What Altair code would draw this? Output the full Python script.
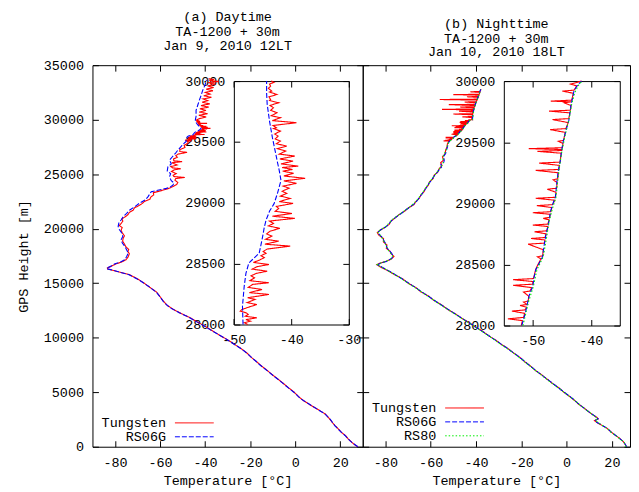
import altair as alt
import pandas as pd

FONT = "Liberation Mono"
FS = 13.5
H = 384

# ---------------- categories / tick labels ----------------
day_title = ["(a) Daytime", "TA-1200 + 30m", "Jan 9, 2010 12LT"]
night_title = ["(b) Nighttime", "TA-1200 + 30m", "Jan 10, 2010 18LT"]
day_series = ["Tungsten", "RS06G"]
night_series = ["Tungsten", "RS06G", "RS80"]
series_colors = ["#ff0000", "#0000ff", "#00ee00"]
series_dashes = [[1, 0], [5, 2], [1.5, 2]]
main_x_ticks = [-80, -60, -40, -20, 0, 20]
main_y_ticks = [0, 5000, 10000, 15000, 20000, 25000, 30000, 35000]
inset_y_ticks = [28000, 28500, 29000, 29500, 30000]
day_inset_x_ticks = [-50, -40, -30]
night_inset_x_ticks = [-50, -40]

# ---------------- daytime (height m, temperature C) ----------------
day_rs06g_low = [(0, 27.8), (300, 25.8), (575, 24.2), (1000, 22.3), (1340, 20.5), (1640, 19.0), (1945, 17.6),
    (2500, 15.6), (3010, 13.2), (3400, 10.2), (3770, 7.3), (4380, 2.6), (5000, -0.6), (5500, -3.6), (6000, -6.5),
    (6500, -9.6), (7000, -12.6), (7500, -15.6), (8000, -18.3), (8500, -21.0), (8945, -23.6), (9500, -27.8),
    (10000, -31.6), (10500, -35.8), (11000, -39.8), (11500, -44.0), (11860, -47.0), (12300, -51.5), (12770, -55.7),
    (13300, -58.5), (13700, -59.8), (14150, -61.5), (14700, -65.0), (15330, -69.5), (15800, -74.0), (16050, -78.5),
    (16245, -82.0), (16330, -83.7), (16450, -83.0), (16600, -81.5), (16790, -80.0), (16950, -77.5), (17160, -75.6),
    (17450, -74.8), (17770, -74.1), (18050, -74.8), (18370, -75.6), (18700, -76.8), (19000, -77.2), (19300, -76.5),
    (19600, -77.0), (19900, -78.0), (20200, -78.6), (20510, -78.3), (20800, -77.3), (21110, -76.3), (21400, -74.8),
    (21720, -73.4), (22050, -71.0), (22360, -69.0), (22650, -66.5), (22940, -65.3), (23200, -64.5), (23390, -63.9),
    (23550, -60.5), (23700, -57.2), (23850, -55.3), (24000, -54.3), (24200, -53.8), (24400, -55.0), (24760, -55.8),
    (25050, -55.3), (25300, -56.8), (25670, -56.5), (25950, -55.0), (26280, -55.8), (26600, -54.5), (26900, -53.2),
    (27200, -52.1), (27500, -50.8), (27750, -49.8)]
day_rs06g_inset = [(28000, -48.4), (28150, -48.5), (28313, -48.2), (28420, -47.9), (28504, -47.4), (28550, -46.4),
    (28585, -45.6), (28650, -45.3), (28721, -45.0), (28800, -44.7), (28857, -44.4), (28930, -43.8), (28993, -43.0),
    (29080, -42.4), (29184, -41.8), (29265, -42.1), (29330, -42.4), (29400, -42.7), (29537, -43.3), (29673, -43.8),
    (29810, -44.2), (29900, -44.3), (30000, -44.3)]
day_rs06g_high = [(30300, -44.0), (30850, -44.0), (31300, -43.3), (31760, -42.6), (32200, -41.8), (32670, -41.1),
    (33050, -40.3), (33430, -39.6), (33650, -39.4)]

day_tung_low = [(0, 27.9), (150, 26.6), (400, 25.2), (700, 23.6), (1000, 22.5), (1300, 20.6), (1600, 19.3),
    (1900, 17.9), (2200, 16.6), (2600, 15.1), (3000, 13.4), (3300, 11.0), (3600, 8.6), (3900, 6.2), (4200, 3.9),
    (4600, 1.5), (5000, -0.4), (5400, -2.9), (5800, -5.2), (6200, -7.6), (6600, -10.1), (7000, -12.4), (7400, -14.9),
    (7800, -17.1), (8200, -19.5), (8600, -21.4), (9000, -24.0), (9400, -27.0), (9800, -29.9), (10200, -33.3),
    (10600, -36.5), (11000, -39.6), (11400, -43.0), (11800, -46.3), (12200, -50.4), (12600, -54.1), (13000, -57.0),
    (13400, -58.7), (13800, -60.1), (14200, -61.6), (14600, -64.4), (15000, -67.0), (15400, -70.0), (15800, -73.7),
    (16100, -79.6), (16300, -83.2), (16400, -83.4), (16550, -81.6), (16750, -79.8), (16950, -77.0), (17150, -75.1),
    (17400, -74.2), (17700, -73.6), (17900, -74.3), (18100, -73.9), (18350, -75.2), (18600, -75.8), (18850, -76.6),
    (19100, -76.4), (19350, -75.8), (19600, -76.7), (19850, -77.3), (20100, -76.8), (20300, -78.1), (20500, -77.2),
    (20700, -76.5), (20900, -76.9), (21100, -75.4), (21300, -74.2), (21500, -73.6), (21700, -71.9), (21900, -71.4),
    (22100, -69.6), (22300, -68.0), (22500, -66.9), (22700, -64.5), (22900, -64.1), (23100, -62.8), (23300, -63.0),
    (23450, -60.2), (23600, -57.5), (23750, -55.4), (23900, -54.0), (24050, -52.6), (24250, -52.1), (24450, -53.4),
    (24600, -53.0), (24700, -49.0), (24780, -53.8), (24900, -54.2), (25050, -52.8), (25250, -54.9), (25400, -53.6),
    (25500, -50.8), (25580, -54.4), (25700, -55.2), (25850, -52.4), (26050, -54.8), (26150, -50.2), (26230, -53.9),
    (26400, -54.0), (26550, -52.3), (26700, -53.0), (26850, -51.9), (27000, -48.0), (27080, -51.2), (27250, -51.2),
    (27450, -48.9), (27650, -49.3), (27850, -47.6)]
day_tung_inset = [(28000, -47.6), (28015, -48.2), (28027, -47.1), (28040, -47.9), (28055, -46.0), (28068, -48.0),
    (28082, -47.5), (28095, -47.8), (28110, -48.9), (28123, -48.6), (28140, -47.6), (28164, -46.0), (28180, -47.7),
    (28206, -46.3), (28220, -47.6), (28247, -43.9), (28262, -47.3), (28288, -45.1), (28305, -47.5), (28330, -46.7),
    (28343, -43.9), (28360, -47.2), (28384, -46.4), (28400, -47.0), (28420, -46.1), (28438, -44.2), (28455, -46.8),
    (28475, -46.0), (28493, -43.9), (28510, -46.6), (28530, -45.5), (28550, -44.7), (28565, -45.3), (28585, -44.4),
    (28600, -44.9), (28620, -44.2), (28644, -40.2), (28660, -44.6), (28685, -42.2), (28700, -44.5), (28726, -43.4),
    (28745, -44.3), (28767, -43.7), (28790, -42.0), (28810, -44.0), (28830, -43.1), (28850, -43.8), (28872, -39.4),
    (28890, -43.3), (28912, -39.9), (28930, -42.8), (28953, -42.2), (28970, -42.6), (28995, -39.7), (29010, -42.1),
    (29036, -40.2), (29055, -41.9), (29077, -40.8), (29095, -41.6), (29120, -40.4), (29137, -41.4), (29160, -39.1),
    (29180, -41.3), (29201, -37.6), (29220, -41.3), (29242, -39.6), (29260, -41.5), (29274, -39.8), (29290, -41.6),
    (29301, -38.8), (29320, -41.8), (29342, -39.7), (29360, -42.0), (29384, -39.4), (29400, -42.1), (29425, -41.0),
    (29445, -42.4), (29466, -40.8), (29485, -42.6), (29507, -41.9), (29525, -42.8), (29534, -42.6), (29548, -42.3),
    (29565, -42.9), (29589, -41.9), (29610, -43.1), (29617, -42.6), (29635, -43.2), (29658, -39.1), (29675, -43.3),
    (29699, -41.9), (29715, -43.5), (29740, -42.5), (29760, -43.6), (29781, -43.1), (29800, -43.7), (29822, -42.2),
    (29840, -43.8), (29849, -43.6), (29870, -43.9), (29890, -42.5), (29910, -43.8), (29918, -43.4), (29940, -44.0),
    (29959, -43.6), (29975, -43.8), (29990, -43.0), (30000, -43.5)]
day_tung_high = [(30100, -42.5), (30250, -39.5), (30400, -42.8), (30550, -38.9), (30700, -42.6), (30850, -39.6),
    (31000, -42.3), (31150, -38.4), (31300, -41.8), (31450, -37.9), (31600, -41.3), (31750, -38.8), (31900, -40.9),
    (32050, -37.2), (32200, -40.6), (32350, -37.8), (32500, -39.9), (32650, -36.5), (32800, -39.5), (32950, -36.2),
    (33100, -38.9), (33250, -35.4), (33400, -38.6), (33500, -33.8), (33600, -38.1), (33700, -36.0), (33750, -38.5)]

# ---------------- nighttime ----------------
night_rs06g_low = [(0, 26.5), (120, 26.2), (430, 25.3), (885, 22.7), (1340, 19.7), (1640, 18.3), (2100, 14.6),
    (2250, 13.2), (2400, 12.5), (2550, 13.9), (2710, 13.2), (3100, 10.5), (3470, 8.1), (3900, 5.5), (4380, 2.9),
    (5000, -1.0), (5500, -4.2), (6000, -7.3), (6500, -10.5), (7000, -13.6), (7500, -16.6), (8000, -19.5),
    (8500, -22.6), (9000, -26.0), (9500, -29.5), (10000, -33.0), (10500, -36.6), (11000, -40.3), (11500, -44.0),
    (12000, -47.8), (12500, -51.6), (13000, -55.3), (13500, -58.9), (14000, -62.4), (14500, -66.0), (15000, -69.6),
    (15500, -73.4), (16000, -77.4), (16400, -80.8), (16700, -83.4), (16850, -82.0), (17000, -79.5), (17250, -77.3),
    (17500, -76.6), (17750, -77.2), (18000, -78.4), (18300, -79.4), (18600, -79.8), (18900, -80.6), (19200, -81.4),
    (19500, -82.8), (19700, -83.2), (19900, -82.0), (20200, -79.6), (20500, -78.2), (20800, -77.0), (21100, -75.1),
    (21400, -73.0), (21700, -71.2), (22000, -69.0), (22300, -67.2), (22600, -65.9), (22900, -64.8), (23200, -63.8),
    (23550, -62.6), (23900, -61.5), (24200, -60.6), (24460, -59.6), (24800, -58.6), (25100, -57.4), (25370, -56.4),
    (25650, -55.2), (25900, -55.5), (26100, -54.2), (26300, -54.0), (26600, -54.4), (26900, -53.4), (27200, -53.0),
    (27500, -52.6), (27800, -52.2)]
night_rs06g_inset = [(28000, -51.9), (28100, -51.3), (28185, -50.9), (28250, -50.6), (28320, -50.0), (28390, -49.8),
    (28455, -49.5), (28510, -48.9), (28563, -48.3), (28640, -48.1), (28726, -47.8), (28830, -47.3), (28943, -46.9),
    (29000, -46.5), (29051, -46.1), (29150, -45.9), (29268, -45.6), (29335, -45.3), (29404, -45.1), (29470, -44.9),
    (29539, -44.6), (29610, -44.2), (29675, -43.8), (29740, -43.6), (29810, -43.4), (29870, -43.1), (29919, -42.9),
    (29960, -42.4), (30000, -41.6)]
night_rs06g_high = [(30300, -41.4), (30700, -41.2), (31000, -40.9), (31400, -40.3), (31800, -39.6), (32200, -38.9),
    (32500, -38.4), (32800, -37.9)]

night_tung_low = [(0, 26.4), (200, 25.9), (500, 24.9), (800, 23.2), (1100, 21.2), (1400, 19.4), (1700, 17.8),
    (2000, 15.3), (2200, 13.6), (2400, 12.3), (2550, 14.0), (2700, 13.3), (3000, 11.1), (3300, 9.2), (3600, 7.4),
    (3900, 5.3), (4200, 3.8), (4600, 1.4), (5000, -1.2), (5400, -3.4), (5800, -6.2), (6200, -8.6), (6600, -11.0),
    (7000, -13.8), (7400, -15.9), (7800, -18.5), (8200, -20.6), (8600, -23.4), (9000, -25.8), (9400, -28.9),
    (9800, -31.4), (10200, -34.6), (10600, -37.1), (11000, -40.5), (11400, -43.1), (11800, -46.4), (12200, -49.2),
    (12600, -52.5), (13000, -55.1), (13400, -58.4), (13800, -60.8), (14200, -64.3), (14600, -66.5), (15000, -69.9),
    (15400, -72.4), (15800, -76.0), (16200, -79.4), (16500, -82.3), (16700, -83.8), (16800, -82.9), (17000, -79.9),
    (17200, -77.5), (17450, -76.2), (17700, -77.4), (17950, -78.0), (18200, -79.6), (18500, -79.3), (18800, -80.9),
    (19100, -80.8), (19400, -82.9), (19650, -83.6), (19850, -82.4), (20100, -80.3), (20400, -78.3), (20700, -77.5),
    (21000, -75.6), (21300, -73.9), (21600, -71.5), (21900, -69.9), (22200, -67.4), (22500, -66.5), (22800, -65.0),
    (23100, -64.3), (23400, -62.9), (23700, -62.3), (24000, -61.0), (24300, -60.5), (24600, -58.9), (24900, -58.5),
    (25200, -56.8), (25500, -56.3), (25800, -55.0), (26050, -55.6), (26300, -54.3), (26600, -54.8), (26900, -53.6),
    (27200, -53.4), (27500, -52.8), (27800, -52.6)]
night_tung_inset = [(28000, -52.0), (28040, -51.8), (28055, -54.3), (28066, -51.6), (28100, -51.4), (28118, -53.6),
    (28128, -51.3), (28150, -51.1), (28164, -52.2), (28172, -51.0), (28192, -51.6), (28200, -50.8), (28240, -50.7),
    (28274, -51.6), (28282, -50.5), (28310, -50.2), (28329, -53.4), (28338, -50.0), (28360, -50.0), (28375, -53.4),
    (28384, -49.9), (28420, -49.7), (28460, -49.5), (28500, -49.1), (28545, -48.6), (28562, -49.2), (28570, -48.3),
    (28620, -48.2), (28666, -50.8), (28674, -48.0), (28700, -47.9), (28712, -50.3), (28720, -47.9), (28750, -47.7),
    (28767, -49.7), (28775, -47.6), (28810, -47.4), (28822, -50.0), (28830, -47.4), (28865, -47.2), (28877, -48.2),
    (28885, -47.1), (28910, -47.0), (28923, -50.0), (28931, -46.9), (28965, -46.7), (28981, -49.3), (28989, -46.6),
    (29025, -46.2), (29041, -49.5), (29049, -46.1), (29090, -46.0), (29115, -47.5), (29123, -45.9), (29170, -45.8),
    (29192, -46.5), (29200, -45.7), (29250, -45.6), (29269, -49.5), (29277, -45.5), (29310, -45.4), (29329, -48.9),
    (29337, -45.3), (29410, -45.1), (29425, -49.2), (29432, -45.0), (29440, -45.0), (29447, -50.7), (29455, -44.9),
    (29490, -44.8), (29507, -45.6), (29515, -44.7), (29580, -44.4), (29603, -47.0), (29611, -44.3), (29660, -43.9),
    (29685, -46.6), (29693, -43.8), (29740, -43.6), (29754, -47.2), (29762, -43.5), (29800, -43.4), (29822, -44.6),
    (29830, -43.4), (29836, -46.9), (29844, -43.3), (29900, -43.0), (29918, -44.9), (29926, -42.9), (29960, -42.4),
    (29975, -43.5), (30000, -41.6)]
night_tung_high = [(30050, -41.8), (30200, -41.9), (30260, -46.0), (30290, -41.7), (30450, -41.5), (30520, -50.0),
    (30550, -41.4), (30700, -41.3), (30780, -47.5), (30810, -41.2), (30900, -41.0), (30950, -55.0), (30985, -40.9),
    (31100, -40.8), (31160, -47.0), (31190, -40.7), (31300, -40.4), (31380, -52.0), (31410, -40.3), (31550, -40.0),
    (31620, -45.0), (31650, -39.9), (31800, -39.5), (31850, -56.0), (31885, -39.4), (32050, -39.0), (32100, -44.0),
    (32130, -38.9), (32250, -38.7), (32300, -50.0), (32330, -38.6), (32500, -38.3), (32560, -42.5), (32590, -38.2),
    (32700, -38.0), (32800, -37.8)]

night_rs80_low = [(0, 26.2), (400, 25.4), (900, 22.5), (1350, 19.5), (1650, 18.0), (2100, 14.8), (2400, 12.7),
    (2550, 13.7), (2700, 13.0), (3500, 7.9), (4400, 2.7), (5500, -4.4), (6500, -10.7), (7500, -16.8), (8500, -22.8),
    (9500, -29.7), (10500, -36.8), (11500, -44.2), (12500, -51.8), (13500, -59.1), (14500, -66.2), (15500, -73.6),
    (16000, -77.6), (16400, -81.0), (16700, -83.6), (16850, -82.2), (17000, -79.7), (17250, -77.5), (17500, -76.8),
    (18000, -78.6), (18600, -80.0), (19200, -81.6), (19700, -83.4), (19900, -82.2), (20200, -79.8), (20800, -77.2),
    (21400, -73.2), (22000, -69.2), (22600, -66.1), (23200, -64.0), (23900, -61.7), (24460, -59.8), (25100, -57.6),
    (25650, -55.4), (26100, -54.4), (26600, -54.6), (27200, -53.2), (27800, -52.4)]
night_rs80_inset = [(28000, -51.7), (28120, -51.1), (28200, -50.7), (28320, -49.9), (28455, -49.3), (28563, -48.2),
    (28726, -47.6), (28850, -47.2), (28943, -46.7), (29051, -46.0), (29180, -45.7), (29300, -45.4), (29420, -45.0),
    (29539, -44.5), (29620, -44.1), (29700, -43.7), (29810, -43.3), (29900, -42.8), (29960, -42.2), (30000, -41.5)]
night_rs80_high = [(30400, -41.3), (31000, -40.8), (31500, -40.1), (32000, -39.2), (32500, -38.3), (32750, -37.9)]


def to_df(name, *parts):
    rows = []
    for part in parts:
        for h, t in part:
            rows.append({"h": h, "T": t, "series": name})
    return pd.DataFrame(rows)


LAB = "'' + datum.value"


def panel(title_lines, W, xdom, mains, insets, ix_dom, ix_vals, ixr, iyr, leg_y, names, ylabels):
    n = len(names)
    mx = alt.Scale(domain=xdom, nice=False, zero=False)
    my = alt.Scale(domain=[0, 35000], nice=False, zero=False)
    ix = alt.Scale(domain=ix_dom, range=ixr, nice=False, zero=False)
    iy = alt.Scale(domain=[28000, 30000], range=iyr, nice=False, zero=False)
    leg = alt.Legend(orient="none", legendX=95.5, legendY=leg_y, title=None, symbolType="M-3,0L3,0",
                     symbolSize=169, symbolStrokeWidth=1, labelFont=FONT, labelFontSize=FS,
                     labelColor="black", labelAlign="right", labelOffset={"expr": "-35.5"}, rowPadding=0,
                     padding=0, symbolOffset=0, labelLimit=300)
    color = alt.Color("series:N", scale=alt.Scale(domain=names, range=series_colors[:n]), legend=leg)
    dash = alt.StrokeDash("series:N", scale=alt.Scale(domain=names, range=series_dashes[:n]), legend=leg)

    mxa = [
        alt.Axis(orient="bottom", values=main_x_ticks, labels=True, ticks=False, domain=False,
                 labelPadding=9, labelExpr=LAB, title="Temperature [°C]", titlePadding=5),
        alt.Axis(orient="top", offset=-H, values=main_x_ticks, labels=False, ticks=True, domain=False, title=None),
        alt.Axis(orient="bottom", offset=-H, values=main_x_ticks, labels=False, ticks=True, domain=False, title=None),
    ]
    if ylabels:
        y0 = alt.Axis(orient="left", values=main_y_ticks, labels=True, ticks=False, domain=False,
                      labelPadding=9, format="d", title="GPS Height [m]", titlePadding=13)
    else:
        y0 = None
    mya = [
        y0,
        alt.Axis(orient="right", offset=-W, values=main_y_ticks, labels=False, ticks=True, domain=False, title=None),
        alt.Axis(orient="left", offset=-W, values=main_y_ticks, labels=False, ticks=True, domain=False, title=None),
    ]
    ixa = [
        alt.Axis(orient="bottom", offset=iyr[0] - H, values=ix_vals, labels=True, ticks=False, domain=True,
                 labelPadding=8, labelExpr=LAB, title=None),
        alt.Axis(orient="top", offset=-iyr[0], values=ix_vals, labels=False, ticks=True, domain=False, title=None),
        alt.Axis(orient="bottom", offset=iyr[1] - H, values=ix_vals, labels=False, ticks=True, domain=True, title=None),
    ]
    iya = [
        alt.Axis(orient="left", offset=-ixr[0], values=inset_y_ticks, labels=True, ticks=False, domain=True,
                 labelPadding=9, format="d", title=None),
        alt.Axis(orient="right", offset=ixr[0] - W, values=inset_y_ticks, labels=False, ticks=True, domain=False, title=None),
        alt.Axis(orient="left", offset=-ixr[1], values=inset_y_ticks, labels=False, ticks=True, domain=True, title=None),
    ]

    layers = []
    for i in range(3):
        x = alt.X("T:Q", scale=mx, axis=mxa[i])
        y = alt.Y("h:Q", scale=my, axis=mya[i])
        if i < len(mains):
            layers.append(alt.Chart(mains[i]).mark_line(strokeWidth=1.1).encode(
                x=x, y=y, color=color, strokeDash=dash, order=alt.Order("h:Q")))
        else:
            dummy = pd.DataFrame({"T": xdom, "h": [0, 35000]})
            layers.append(alt.Chart(dummy).mark_point(opacity=0).encode(x=x, y=y))
    for i in range(3):
        x = alt.X("T:Q", scale=ix, axis=ixa[i])
        y = alt.Y("h:Q", scale=iy, axis=iya[i])
        if i < len(insets):
            layers.append(alt.Chart(insets[i]).mark_line(strokeWidth=1.1).encode(
                x=x, y=y, color=color, strokeDash=dash, order=alt.Order("h:Q")))
        else:
            dummy = pd.DataFrame({"T": ix_dom, "h": [28000, 30000]})
            layers.append(alt.Chart(dummy).mark_point(opacity=0).encode(x=x, y=y))

    return alt.layer(*layers).resolve_scale(x="independent", y="independent").properties(
        width=W, height=H,
        title=alt.TitleParams(text=title_lines[0], subtitle=title_lines[1:], anchor="middle", frame="group",
                              font=FONT, fontSize=FS, fontWeight="normal", color="black",
                              subtitleFont=FONT, subtitleFontSize=FS, subtitleColor="black",
                              subtitleFontWeight="normal", subtitleLineHeight=13.5, subtitlePadding=1.5,
                              offset=6))


day_main = [to_df("Tungsten", day_tung_low, day_tung_inset, day_tung_high),
            to_df("RS06G", day_rs06g_low, day_rs06g_inset, day_rs06g_high)]
day_ins = [to_df("Tungsten", day_tung_inset), to_df("RS06G", day_rs06g_inset)]
night_main = [to_df("Tungsten", night_tung_low, night_tung_inset, night_tung_high),
              to_df("RS06G", night_rs06g_low, night_rs06g_inset, night_rs06g_high),
              to_df("RS80", night_rs80_low, night_rs80_inset, night_rs80_high)]
night_ins = [to_df("Tungsten", night_tung_inset), to_df("RS06G", night_rs06g_inset),
             to_df("RS80", night_rs80_inset)]

left = panel(day_title, 272, [-90, 30], day_main, day_ins, [-50, -30], day_inset_x_ticks,
             [142.3, 258], [261, 16], 353, day_series, True)
right = panel(night_title, 269, [-90, 28], night_main, night_ins, [-55, -35], night_inset_x_ticks,
              [142, 258.7], [262, 16], 338, night_series, False)

chart = alt.hconcat(left, right, spacing=0, bounds="flush").resolve_scale(
    color="independent", strokeDash="independent").properties(
    padding={"left": 7, "top": 0, "right": 0, "bottom": 0}
).configure_view(stroke="black", strokeWidth=1).configure_axis(
    labelFont=FONT, labelFontSize=FS, labelColor="black", tickColor="black", domainColor="black",
    tickSize=6, tickWidth=1, domainWidth=1, labelFlush=False, labelOverlap=False, grid=False,
    titleFont=FONT, titleFontSize=FS, titleFontWeight="normal", titleColor="black")

chart.save("out.html", embed_options={"renderer": "svg", "actions": False})
